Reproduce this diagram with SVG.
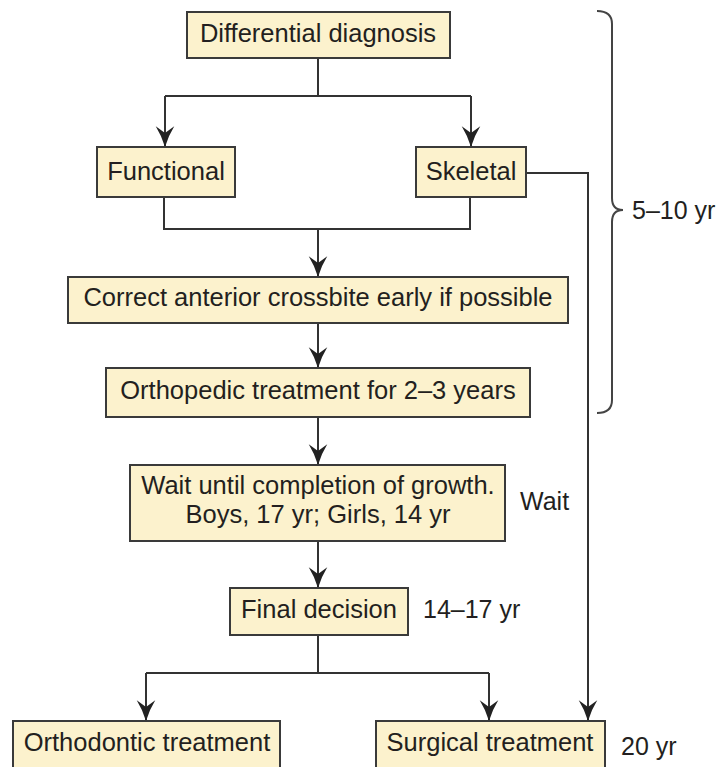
<svg xmlns="http://www.w3.org/2000/svg" width="721" height="767" viewBox="0 0 721 767">
<style>
.box{fill:#fcf2cd;stroke:#3a3a3a;stroke-width:2}
.t{font-family:"Liberation Sans",Arial,sans-serif;font-size:25.5px;fill:#231f20;text-anchor:middle}
.l{font-family:"Liberation Sans",Arial,sans-serif;font-size:25px;fill:#231f20}
.c{fill:none;stroke:#333;stroke-width:2}
.br{fill:none;stroke:#444;stroke-width:2}
</style>
<defs>
<marker id="ah" markerUnits="userSpaceOnUse" markerWidth="22" markerHeight="22" viewBox="0 -9 19 18" refX="18" refY="0" orient="auto">
<path d="M18,0 Q8,-3 0,-8 L6,0 L0,8 Q8,3 18,0Z" fill="#222"/>
</marker>
</defs>
<rect width="721" height="767" fill="#fff"/>
<g id="connectors">
<path class="c" d="M318,58 V96"/>
<path class="c" d="M165,96 H471"/>
<path class="c" d="M165,96 V147" marker-end="url(#ah)"/>
<path class="c" d="M471,96 V147" marker-end="url(#ah)"/>
<path class="c" d="M164,197 V229 H470 V197"/>
<path class="c" d="M318,229 V277" marker-end="url(#ah)"/>
<path class="c" d="M318,323 V368" marker-end="url(#ah)"/>
<path class="c" d="M318,417 V465" marker-end="url(#ah)"/>
<path class="c" d="M318,541 V588" marker-end="url(#ah)"/>
<path class="c" d="M318,635 V673"/>
<path class="c" d="M146,673 H489"/>
<path class="c" d="M146,673 V721" marker-end="url(#ah)"/>
<path class="c" d="M489,673 V721" marker-end="url(#ah)"/>
<path class="c" d="M526,173 H588 V721" marker-end="url(#ah)"/>
</g>
<g id="brace">
<path class="br" d="M597,11 Q612,11 612,24 L612,198 Q612,210 623,210 Q612,210 612,222 L612,400 Q612,413 597,413"/>
<text class="l" x="632" y="219">5–10 yr</text>
</g>
<g id="n-diff"><rect class="box" x="187" y="12" width="263" height="46"/><text class="t" x="318" y="42">Differential diagnosis</text></g>
<g id="n-func"><rect class="box" x="97" y="147" width="138" height="50"/><text class="t" x="166" y="180">Functional</text></g>
<g id="n-skel"><rect class="box" x="416" y="147" width="110" height="50"/><text class="t" x="471" y="180">Skeletal</text></g>
<g id="n-correct"><rect class="box" x="68" y="277" width="500" height="46"/><text class="t" x="318" y="306">Correct anterior crossbite early if possible</text></g>
<g id="n-ortho"><rect class="box" x="106" y="368" width="424" height="49"/><text class="t" x="318" y="399">Orthopedic treatment for 2–3 years</text></g>
<g id="n-wait"><rect class="box" x="130" y="465" width="375" height="76"/><text class="t" x="318" y="494">Wait until completion of growth.</text><text class="t" x="318" y="523">Boys, 17 yr; Girls, 14 yr</text></g>
<text class="l" x="520" y="510">Wait</text>
<g id="n-final"><rect class="box" x="230" y="588" width="178" height="47"/><text class="t" x="319" y="618">Final decision</text></g>
<text class="l" x="423" y="618">14–17 yr</text>
<g id="n-orthodontic"><rect class="box" x="13" y="721" width="267" height="60"/><text class="t" x="147" y="751">Orthodontic treatment</text></g>
<g id="n-surgical"><rect class="box" x="376" y="721" width="229" height="60"/><text class="t" x="490" y="751">Surgical treatment</text></g>
<text class="l" x="621" y="755">20 yr</text>
</svg>
